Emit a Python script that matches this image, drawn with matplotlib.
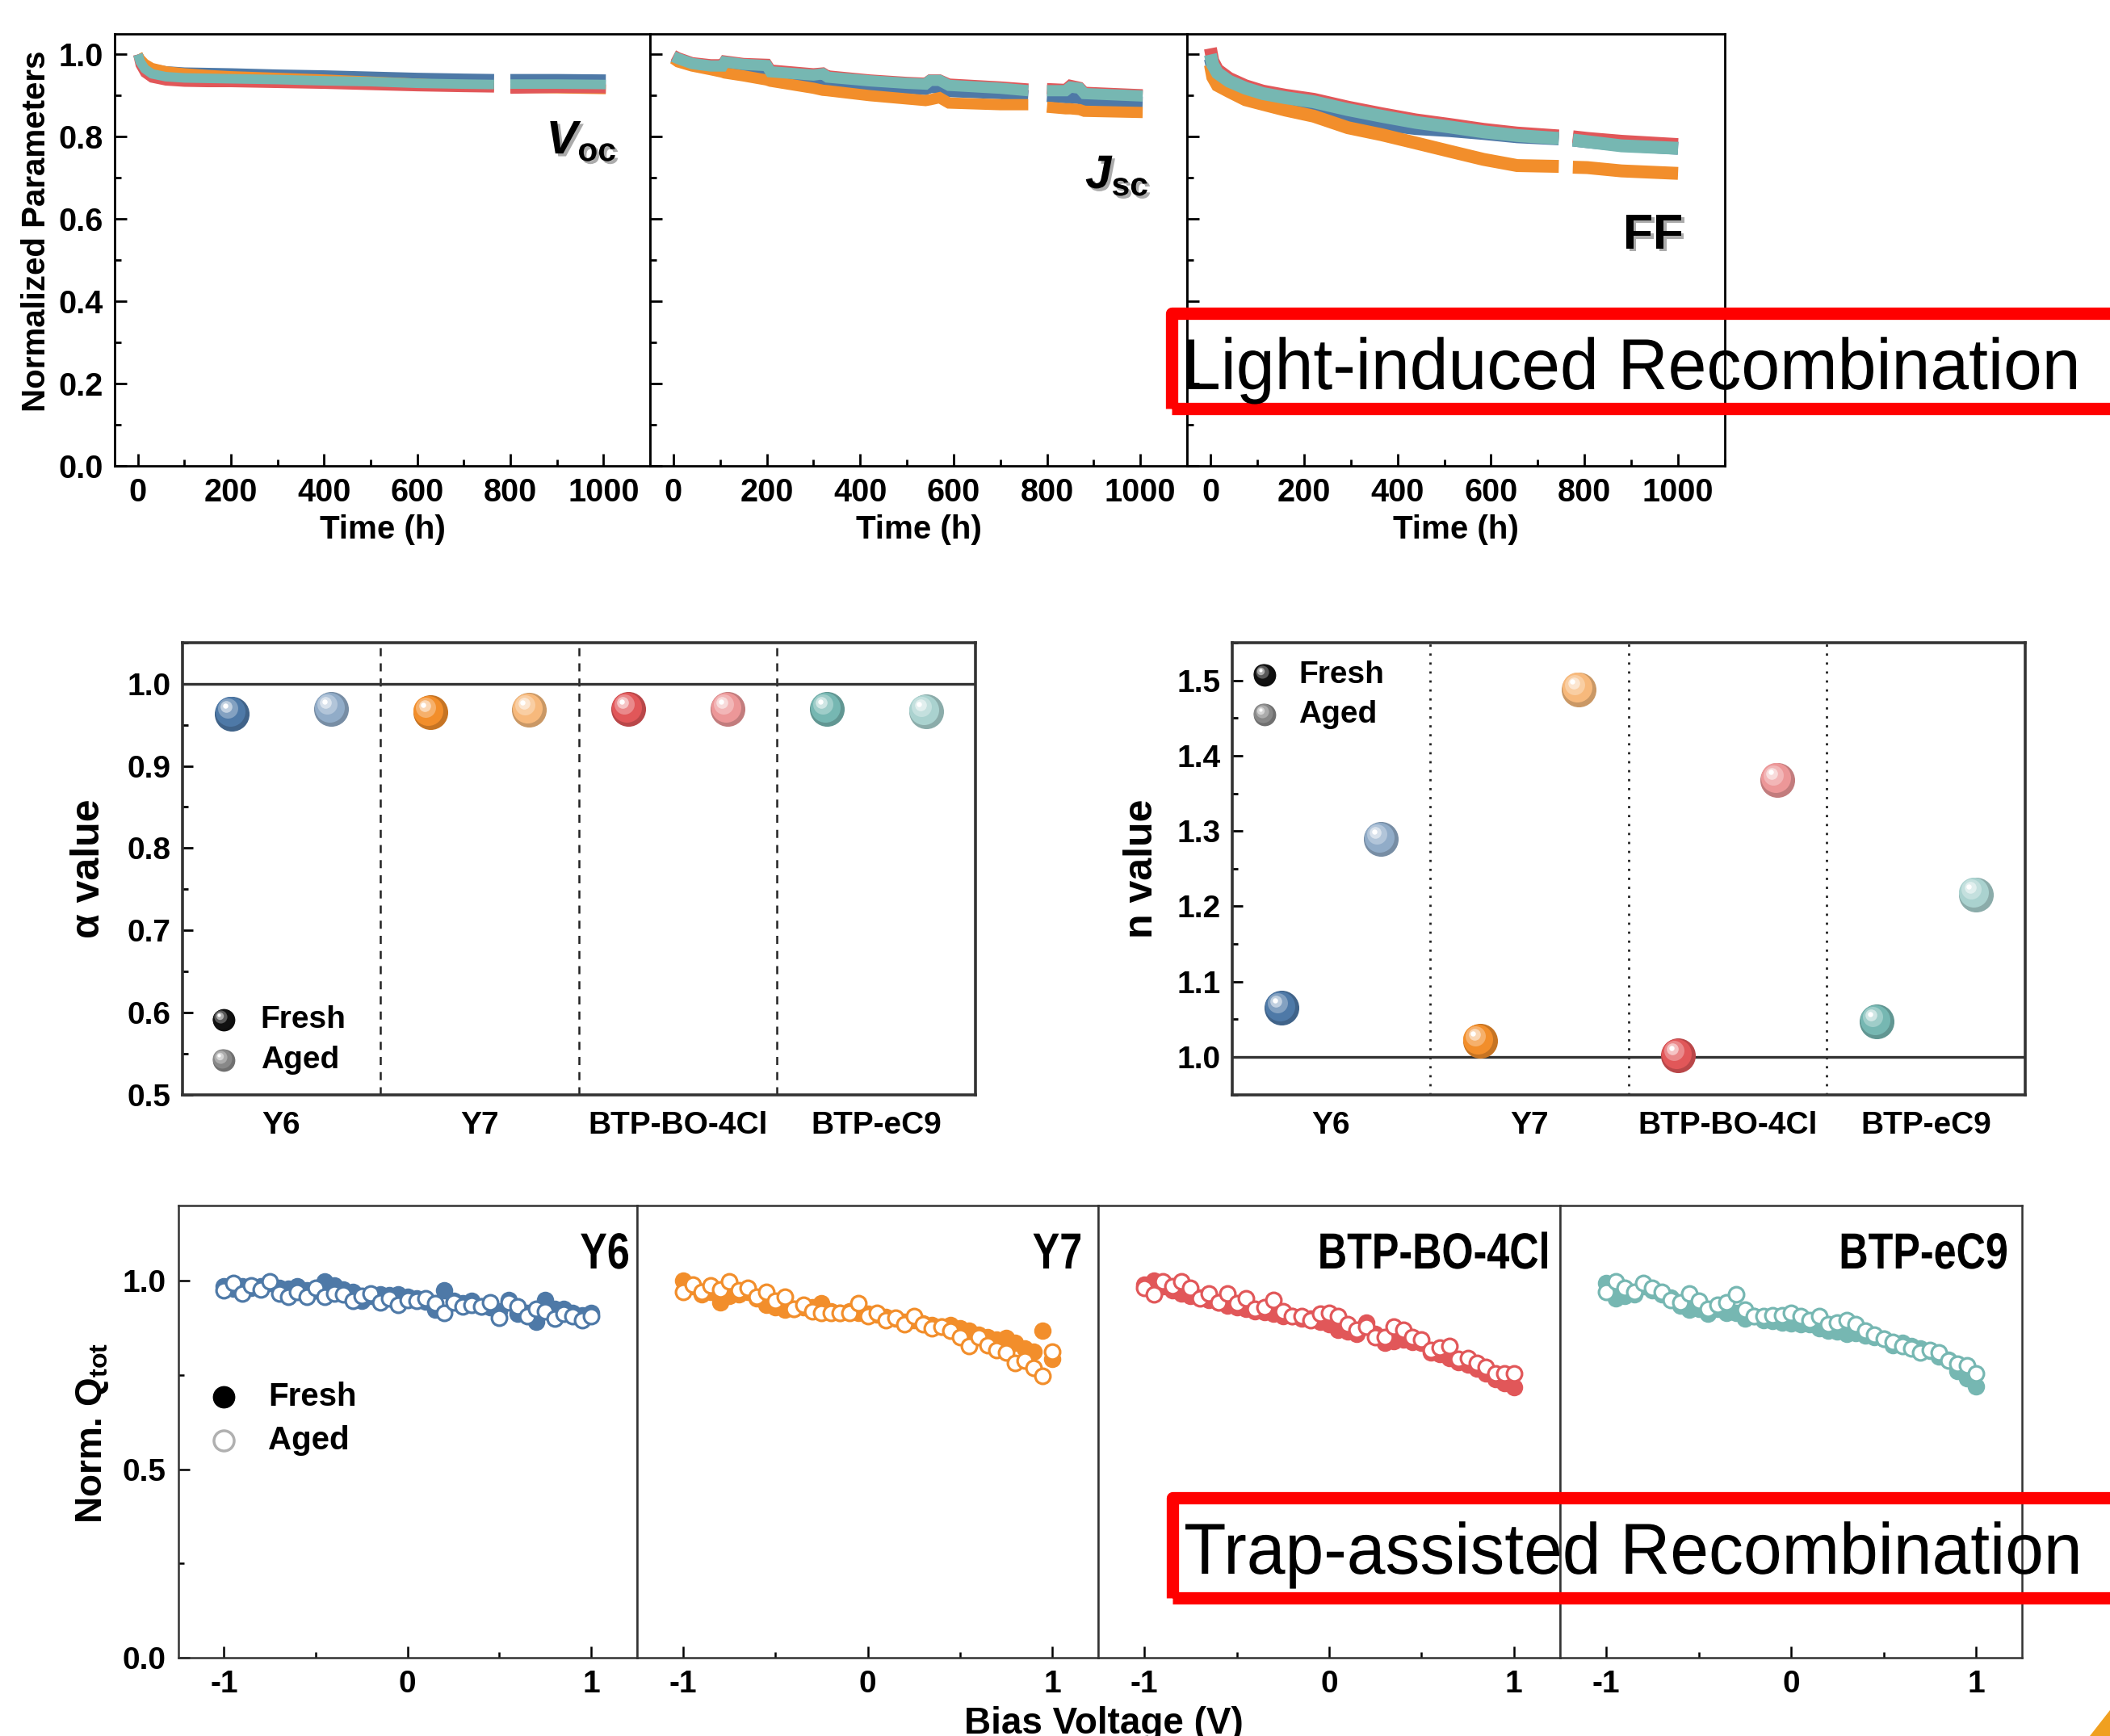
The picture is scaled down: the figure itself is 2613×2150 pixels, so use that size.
import numpy as np
import matplotlib
matplotlib.use('Agg')
import matplotlib.pyplot as plt
import matplotlib.patheffects as pe
from matplotlib.colors import to_rgb
from matplotlib.font_manager import FontProperties
from matplotlib.patches import Rectangle, Polygon, PathPatch
from matplotlib.textpath import TextPath
from matplotlib.ticker import MultipleLocator, FormatStrFormatter
from matplotlib.transforms import ScaledTranslation, Affine2D

# ---- fonts ----
plt.rcParams['font.family'] = ['Liberation Sans', 'DejaVu Sans']
plt.rcParams['font.weight'] = 'bold'
plt.rcParams['axes.labelweight'] = 'bold'
plt.rcParams['axes.unicode_minus'] = False
plt.rcParams['mathtext.fontset'] = 'custom'
plt.rcParams['mathtext.it'] = 'Liberation Sans:italic:bold'
plt.rcParams['mathtext.rm'] = 'Liberation Sans:bold'
plt.rcParams['mathtext.bf'] = 'Liberation Sans:bold'

# ---- colours ----
C_BLUE, C_ORANGE, C_RED, C_TEAL = '#4e79a7', '#f28e2b', '#e15759', '#76b7b2'
series_colors = [C_BLUE, C_ORANGE, C_RED, C_TEAL]

# ---- data: stability (top row) ----
t_voc = [0, 5, 15, 30, 60, 100, 150, 200, 300, 400, 500, 600, 700, 765, 780, 800, 900, 1005]
voc_blue = [1.0, 0.988, 0.975, 0.966, 0.960, 0.957, 0.956, 0.955, 0.952, 0.950, 0.947, 0.944, 0.942, 0.941, np.nan, 0.941, 0.941, 0.940]
voc_orange = [1.0, 0.990, 0.978, 0.968, 0.960, 0.955, 0.951, 0.948, 0.944, 0.940, 0.935, 0.930, 0.925, 0.923, np.nan, 0.918, 0.917, 0.915]
voc_red = [1.0, 0.975, 0.955, 0.943, 0.936, 0.933, 0.932, 0.932, 0.930, 0.928, 0.925, 0.922, 0.920, 0.919, np.nan, 0.916, 0.918, 0.917]
voc_teal = [1.0, 0.982, 0.965, 0.953, 0.946, 0.943, 0.942, 0.941, 0.939, 0.936, 0.934, 0.930, 0.928, 0.927, np.nan, 0.928, 0.928, 0.927]

t_jsc = [0, 10, 40, 80, 105, 110, 150, 200, 208, 300, 320, 330, 420, 500, 540, 550, 570, 590, 700, 760, 780, 800, 840, 850, 870, 880, 1005]
jsc_blue = [0.993, 0.986, 0.974, 0.966, 0.963, 0.965, 0.962, 0.958, 0.950, 0.940, 0.940, 0.935, 0.925, 0.918, 0.915, 0.920, 0.918, 0.910, 0.905, 0.900, np.nan, 0.898, 0.895, 0.895, 0.893, 0.888, 0.884]
jsc_orange = [0.990, 0.982, 0.972, 0.963, 0.957, 0.955, 0.948, 0.938, 0.935, 0.918, 0.913, 0.912, 0.900, 0.892, 0.888, 0.890, 0.895, 0.882, 0.878, 0.878, np.nan, 0.872, 0.868, 0.868, 0.866, 0.862, 0.859]
jsc_red = [0.998, 0.992, 0.980, 0.975, 0.975, 0.984, 0.978, 0.976, 0.962, 0.953, 0.955, 0.948, 0.938, 0.932, 0.930, 0.938, 0.938, 0.928, 0.921, 0.916, np.nan, 0.917, 0.915, 0.925, 0.920, 0.908, 0.902]
jsc_teal = [0.995, 0.990, 0.978, 0.972, 0.972, 0.982, 0.976, 0.973, 0.958, 0.950, 0.953, 0.945, 0.936, 0.930, 0.928, 0.937, 0.937, 0.925, 0.918, 0.912, np.nan, 0.912, 0.912, 0.921, 0.918, 0.905, 0.899]

t_ff = [0, 5, 15, 40, 75, 112, 160, 221, 294, 366, 439, 511, 584, 656, 745, 760, 775, 806, 879, 1000]
ff_blue = [0.990, 0.965, 0.942, 0.922, 0.905, 0.893, 0.882, 0.868, 0.840, 0.830, 0.820, 0.815, 0.808, 0.800, 0.795, np.nan, 0.792, 0.788, 0.780, 0.772]
ff_orange = [0.975, 0.945, 0.925, 0.910, 0.890, 0.879, 0.865, 0.850, 0.822, 0.805, 0.785, 0.765, 0.745, 0.730, 0.728, np.nan, 0.726, 0.725, 0.717, 0.711]
ff_red = [1.015, 0.985, 0.963, 0.942, 0.924, 0.911, 0.901, 0.891, 0.872, 0.856, 0.841, 0.830, 0.818, 0.809, 0.802, np.nan, 0.800, 0.796, 0.789, 0.781]
ff_teal = [1.000, 0.975, 0.955, 0.935, 0.918, 0.905, 0.895, 0.885, 0.866, 0.850, 0.835, 0.824, 0.812, 0.803, 0.796, np.nan, 0.792, 0.788, 0.778, 0.772]

# ---- data: alpha / n values (middle row) ----
materials = ['Y6', 'Y7', 'BTP-BO-4Cl', 'BTP-eC9']
alpha_fresh = [0.964, 0.965, 0.969, 0.969]
alpha_aged = [0.969, 0.968, 0.969, 0.966]
n_fresh = [1.065, 1.021, 1.002, 1.047]
n_aged = [1.289, 1.488, 1.368, 1.216]

# ---- data: Q_tot vs bias (bottom row) ----
bias_v = [-1.0, -0.95, -0.9, -0.85, -0.8, -0.75, -0.7, -0.65, -0.6, -0.55, -0.5,
          -0.45, -0.4, -0.35, -0.3, -0.25, -0.2, -0.15, -0.1, -0.05, 0.0,
          0.05, 0.1, 0.15, 0.2, 0.25, 0.3, 0.35, 0.4, 0.45, 0.5,
          0.55, 0.6, 0.65, 0.7, 0.75, 0.8, 0.85, 0.9, 0.95, 1.0]
y6_fresh = [0.985, 0.98, 0.985, 0.982, 0.985, 0.995, 0.981, 0.98, 0.985, 0.974, 0.975,
            0.998, 0.988, 0.978, 0.971, 0.947, 0.96, 0.964, 0.962, 0.964, 0.957,
            0.954, 0.945, 0.923, 0.974, 0.947, 0.94, 0.947, 0.933, 0.93, 0.919,
            0.95, 0.913, 0.915, 0.892, 0.95, 0.926, 0.926, 0.915, 0.909, 0.916]
y6_aged = [0.974, 0.995, 0.967, 0.988, 0.978, 0.998, 0.967, 0.957, 0.971, 0.957, 0.981,
           0.957, 0.967, 0.964, 0.947, 0.961, 0.967, 0.943, 0.954, 0.937, 0.950,
           0.947, 0.954, 0.940, 0.916, 0.943, 0.933, 0.937, 0.933, 0.943, 0.902,
           0.943, 0.933, 0.906, 0.926, 0.919, 0.899, 0.913, 0.906, 0.895, 0.906]
y7_fresh = [1.0, 0.985, 0.964, 0.97, 0.943, 0.96, 0.965, 0.971, 0.954, 0.937, 0.93,
            0.923, 0.925, 0.93, 0.93, 0.94, 0.92, 0.915, 0.92, 0.916, 0.913,
            0.91, 0.905, 0.899, 0.892, 0.895, 0.888, 0.882, 0.878, 0.882, 0.875,
            0.868, 0.858, 0.851, 0.845, 0.848, 0.835, 0.82, 0.813, 0.868, 0.792]
y7_aged = [0.971, 0.99, 0.971, 0.988, 0.978, 0.998, 0.974, 0.981, 0.957, 0.971, 0.947,
           0.957, 0.926, 0.937, 0.919, 0.916, 0.916, 0.916, 0.916, 0.940, 0.906,
           0.916, 0.895, 0.902, 0.885, 0.906, 0.885, 0.875, 0.878, 0.868, 0.851,
           0.827, 0.851, 0.830, 0.817, 0.810, 0.782, 0.789, 0.769, 0.748, 0.813]
bo_fresh = [0.99, 1.0, 0.985, 0.975, 0.967, 0.96, 0.955, 0.95, 0.943, 0.935, 0.93,
            0.925, 0.92, 0.918, 0.912, 0.906, 0.906, 0.9, 0.9, 0.892, 0.885,
            0.87, 0.865, 0.86, 0.89, 0.86, 0.835, 0.84, 0.845, 0.838, 0.835,
            0.81, 0.806, 0.795, 0.785, 0.778, 0.768, 0.755, 0.74, 0.728, 0.717]
bo_aged = [0.981, 0.964, 0.998, 0.985, 0.998, 0.981, 0.954, 0.967, 0.943, 0.967, 0.940,
           0.954, 0.926, 0.930, 0.950, 0.919, 0.906, 0.906, 0.895, 0.913, 0.916,
           0.906, 0.885, 0.871, 0.878, 0.851, 0.851, 0.878, 0.871, 0.851, 0.844,
           0.817, 0.823, 0.827, 0.793, 0.796, 0.782, 0.772, 0.755, 0.755, 0.755]
ec9_fresh = [0.995, 0.954, 0.96, 0.965, 0.985, 0.975, 0.965, 0.955, 0.935, 0.923, 0.925,
             0.912, 0.926, 0.915, 0.916, 0.9, 0.906, 0.895, 0.893, 0.89, 0.888,
             0.885, 0.885, 0.875, 0.868, 0.865, 0.86, 0.861, 0.855, 0.85, 0.847,
             0.83, 0.835, 0.828, 0.82, 0.815, 0.8, 0.79, 0.76, 0.741, 0.72]
ec9_aged = [0.971, 0.998, 0.981, 0.971, 0.995, 0.981, 0.971, 0.950, 0.943, 0.967, 0.947,
            0.926, 0.937, 0.943, 0.964, 0.923, 0.906, 0.906, 0.909, 0.909, 0.916,
            0.906, 0.895, 0.906, 0.885, 0.889, 0.895, 0.885, 0.868, 0.858, 0.847,
            0.837, 0.827, 0.820, 0.810, 0.817, 0.810, 0.789, 0.779, 0.775, 0.755]

W, H = 2613, 2150
fig = plt.figure(figsize=(W / 100, H / 100), dpi=100)


def fax(x0, y0, x1, y1):
    # axes from pixel box (top-left origin)
    return fig.add_axes([x0 / W, 1 - y1 / H, (x1 - x0) / W, (y1 - y0) / H])


def lighten(c, f):
    rgb = np.array(to_rgb(c))
    return tuple(rgb + (1 - rgb) * f)


def darken(c, f):
    return tuple(np.array(to_rgb(c)) * (1 - f))


def sphere(ax, x, y, color, d, transform=None, z=5):
    base = transform if transform is not None else ax.transData
    layers = [(1.0, darken(color, 0.18), 0, 0),
              (0.86, color, -0.05, 0.06),
              (0.58, lighten(color, 0.3), -0.12, 0.14),
              (0.34, lighten(color, 0.65), -0.16, 0.19),
              (0.15, 'white', -0.19, 0.22)]
    for k, (f, c, ox, oy) in enumerate(layers):
        tr = base + ScaledTranslation(ox * d / 72, oy * d / 72, fig.dpi_scale_trans)
        ax.scatter([x], [y], s=(f * d) ** 2, color=[c], transform=tr, lw=0,
                   zorder=z + k * 0.01, clip_on=False)


def narrow_text(s, x, baseline, cap, width=None, stretch=0.82, weight='normal', ha='left'):
    # condensed text drawn as a path, placed in pixel coords (top-left origin)
    tp = TextPath((0, 0), s, size=1, prop=FontProperties(family='Liberation Sans', weight=weight))
    ext = tp.get_extents()
    sy = cap / 0.716
    sx = width / ext.width if width else sy * stretch
    x0 = x - ext.x0 * sx if ha == 'left' else x - ext.x1 * sx
    tr = Affine2D().scale(sx / 100, sy / 100).translate(x0 / 100, (H - baseline) / 100) + fig.dpi_scale_trans
    fig.add_artist(PathPatch(tp, transform=tr, fc='black', lw=0, zorder=10))


def style_spines(ax, color, lw):
    for s in ax.spines.values():
        s.set_color(color)
        s.set_linewidth(lw)


# ================= top row =================
top_axes = [fax(142, 42, 805, 577), fax(805, 42, 1470, 577), fax(1470, 42, 2136, 577)]
top_data = [(t_voc, [voc_blue, voc_orange, voc_red, voc_teal], 8.5),
            (t_jsc, [jsc_blue, jsc_orange, jsc_red, jsc_teal], 10),
            (t_ff, [ff_blue, ff_orange, ff_red, ff_teal], 11.5)]
for i, ax in enumerate(top_axes):
    t, vals, lw = top_data[i]
    for v, c in zip(vals, series_colors):
        ax.plot(t, v, color=c, lw=lw, solid_capstyle='butt', solid_joinstyle='miter')
    ax.set_xlim(-50, 1100)
    ax.set_ylim(0, 1.05)
    ax.xaxis.set_major_locator(MultipleLocator(200))
    ax.xaxis.set_minor_locator(MultipleLocator(100))
    ax.yaxis.set_major_locator(MultipleLocator(0.2))
    ax.yaxis.set_minor_locator(MultipleLocator(0.1))
    ax.yaxis.set_major_formatter(FormatStrFormatter('%.1f'))
    ax.tick_params(which='both', direction='in', width=2, labelsize=28.5, pad=10)
    ax.tick_params(which='major', length=11)
    ax.tick_params(which='minor', length=6)
    style_spines(ax, 'black', 2)
    ax.set_xlabel('Time (h)', fontsize=29)
    ax.xaxis.set_label_coords(0.5, -0.112)
    if i > 0:
        ax.tick_params(labelleft=False)
top_axes[0].set_ylabel('Normalized Parameters', fontsize=29)
top_axes[0].yaxis.set_label_coords(-0.118, 0.544)

shadow = [pe.withSimplePatchShadow(offset=(2.5, -2.5), shadow_rgbFace='#666666', alpha=0.55)]
top_axes[0].text(0.938, 0.723, r'$V_{\mathrm{oc}}$', transform=top_axes[0].transAxes,
                 fontsize=42, ha='right', va='baseline', path_effects=shadow)
top_axes[1].text(0.929, 0.643, r'$J_{\mathrm{sc}}$', transform=top_axes[1].transAxes,
                 fontsize=42, ha='right', va='baseline', path_effects=shadow)
top_axes[2].text(0.923, 0.503, 'FF', transform=top_axes[2].transAxes,
                 fontsize=44, ha='right', va='baseline', path_effects=shadow)

# ================= middle row =================
ax_a = fax(225.6, 796, 1208, 1355.6)
ax_n = fax(1525.6, 796, 2508, 1355.6)
mid = [(ax_a, alpha_fresh, alpha_aged, (0.5, 1.05), 'α value', (0, (4, 3.5)), 1.8),
       (ax_n, n_fresh, n_aged, (0.95, 1.55), 'n value', (0, (1, 3)), 2.0)]
for ax, fr, ag, ylim, lab, ls, dlw in mid:
    ax.set_xlim(0, 8)
    ax.set_ylim(*ylim)
    ax.axhline(1.0, color='#333333', lw=2.4, zorder=2)
    for xd in [2, 4, 6]:
        ax.axvline(xd, color='#222222', ls=ls, lw=dlw, zorder=1)
    for k, c in enumerate(series_colors):
        sphere(ax, 0.5 + 2 * k, fr[k], c, 31)
        sphere(ax, 1.5 + 2 * k, ag[k], lighten(c, 0.38), 31)
    ax.set_xticks([1, 3, 5, 7])
    ax.set_xticklabels(materials)
    ax.tick_params(axis='x', length=0, pad=15, labelsize=28)
    ax.yaxis.set_major_locator(MultipleLocator(0.1))
    ax.yaxis.set_minor_locator(MultipleLocator(0.05))
    ax.yaxis.set_major_formatter(FormatStrFormatter('%.1f'))
    ax.tick_params(axis='y', which='both', direction='in', width=2, labelsize=28, pad=10)
    ax.tick_params(axis='y', which='major', length=9)
    ax.tick_params(axis='y', which='minor', length=5)
    style_spines(ax, '#333333', 2.6)
    ax.set_ylabel(lab, fontsize=36)
ax_a.yaxis.set_label_coords(-0.094, 0.5)
ax_n.yaxis.set_label_coords(-0.09, 0.5)

# legends with spheres
for ax, xs, ys, xt in [(ax_a, 0.052, (0.165, 0.076), 0.099),
                       (ax_n, 0.041, (0.9285, 0.841), 0.084)]:
    sphere(ax, xs, ys[0], '#111111', 20, transform=ax.transAxes, z=6)
    sphere(ax, xs, ys[1], '#888888', 20, transform=ax.transAxes, z=6)
    ax.text(xt, ys[0], 'Fresh', transform=ax.transAxes, fontsize=28, va='center')
    ax.text(xt, ys[1], 'Aged', transform=ax.transAxes, fontsize=28, va='center')

# ================= bottom row =================
bot_axes = [fax(220.5, 1493, 789, 2053), fax(789, 1493, 1360, 2053),
            fax(1360, 1493, 1932, 2053), fax(1932, 1493, 2504.4, 2053)]
bot_data = [(y6_fresh, y6_aged), (y7_fresh, y7_aged), (bo_fresh, bo_aged), (ec9_fresh, ec9_aged)]
title_right = [778, 1338, 1916, 2485]
for i, ax in enumerate(bot_axes):
    fr, ag = bot_data[i]
    c = series_colors[i]
    ax.plot(bias_v, fr, 'o', color=c, ms=13.5, mec=c, mew=2, zorder=2)
    ax.plot(bias_v, ag, 'o', mfc='white', mec=c, ms=13.5, mew=2.3, zorder=3)
    ax.set_xlim(-1.25, 1.25)
    ax.set_ylim(0, 1.2)
    ax.xaxis.set_major_locator(MultipleLocator(1))
    ax.xaxis.set_minor_locator(MultipleLocator(0.5))
    ax.xaxis.set_major_formatter(FormatStrFormatter('%d'))
    ax.yaxis.set_major_locator(MultipleLocator(0.5))
    ax.yaxis.set_minor_locator(MultipleLocator(0.25))
    ax.yaxis.set_major_formatter(FormatStrFormatter('%.1f'))
    ax.tick_params(which='both', direction='in', width=1.8, labelsize=28, pad=11)
    ax.tick_params(which='major', length=10)
    ax.tick_params(which='minor', length=5)
    style_spines(ax, '#333333', 1.8)
    narrow_text(materials[i], title_right[i], 1571, 45, stretch=0.8, weight='bold', ha='right')
    if i > 0:
        ax.tick_params(axis='y', which='both', left=False, labelleft=False)
b0 = bot_axes[0]
b0.set_ylabel(r'Norm. Q$_{\mathrm{tot}}$', fontsize=33)
b0.yaxis.set_label_coords(-0.147, 0.496)
b0.plot([0.099], [0.576], 'o', color='black', ms=19, transform=b0.transAxes, clip_on=False)
b0.plot([0.099], [0.481], 'o', mfc='white', mec='#b0b0b0', mew=2.5, ms=18,
        transform=b0.transAxes, clip_on=False)
b0.text(0.196, 0.576, 'Fresh', transform=b0.transAxes, fontsize=29, va='center')
b0.text(0.196, 0.481, 'Aged', transform=b0.transAxes, fontsize=29, va='center')
fig.text(1367 / W, 1 - 2113 / H, 'Bias Voltage (V)', ha='center', va='top', fontsize=33)

# ================= annotation boxes =================
fig.add_artist(Rectangle((1450.5 / W, 1 - 505.5 / H), (2640 - 1450.5) / W, 118 / H,
                         transform=fig.transFigure, fill=False, ec='#ff0000', lw=11,
                         joinstyle='round', clip_on=False))
narrow_text('Light-induced Recombination', 1471, 482, 64, width=1100)
fig.add_artist(Rectangle((1451.5 / W, 1 - 1978.5 / H), (2640 - 1451.5) / W, 124 / H,
                         transform=fig.transFigure, fill=False, ec='#ff0000', lw=11,
                         joinstyle='round', clip_on=False))
narrow_text('Trap-assisted Recombination', 1468, 1949, 64, width=1105)

# small decorative corner
fig.add_artist(Polygon([[2588 / W, 0], [1, 32 / H], [1, 0]], closed=True,
                       transform=fig.transFigure, color='#f0a020', lw=0))

fig.savefig('out.png', dpi=100)
